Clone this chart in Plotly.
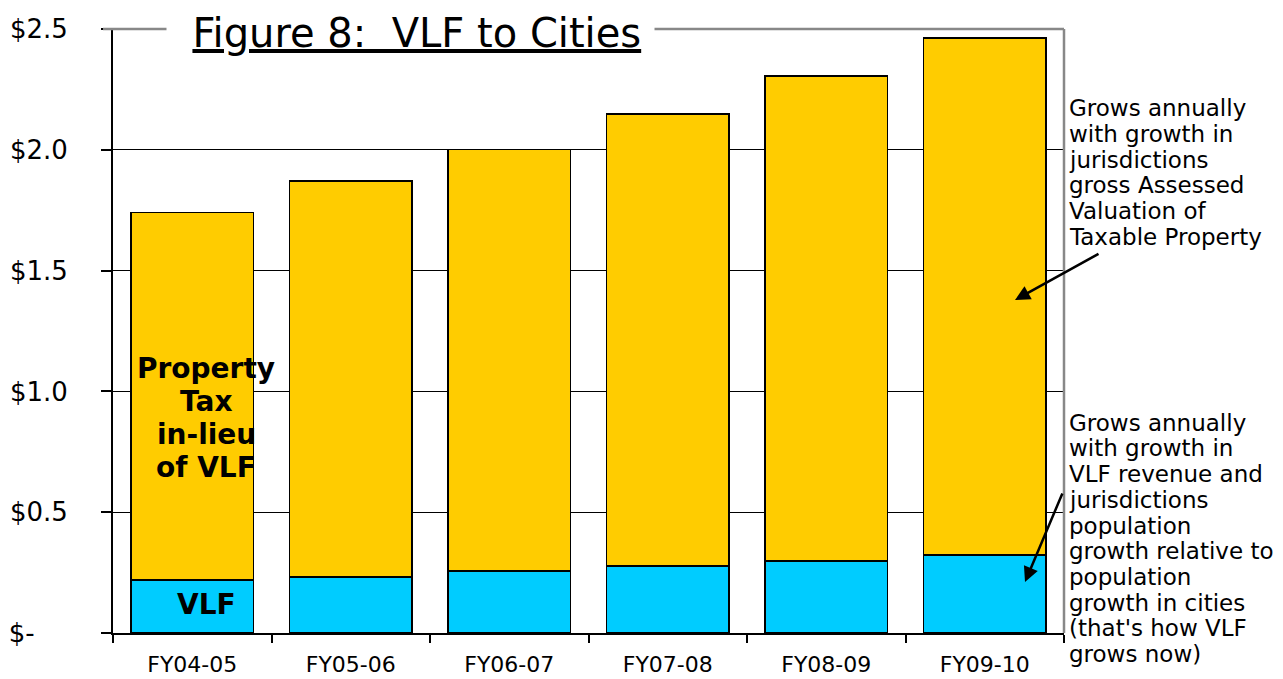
import plotly.graph_objects as go

categories = ["FY04-05", "FY05-06", "FY06-07", "FY07-08", "FY08-09", "FY09-10"]
vlf = [0.220, 0.232, 0.257, 0.278, 0.299, 0.323]
property_tax = [1.521, 1.638, 1.745, 1.870, 2.006, 2.140]
y_tickvals = [0, 0.5, 1.0, 1.5, 2.0, 2.5]
y_ticktext = ["$-\u00a0\u00a0\u00a0\u00a0", "$0.5", "$1.0", "$1.5", "$2.0", "$2.5"]

title_text = "\u00a0\u00a0<u>Figure 8:  VLF to Cities</u>\u00a0"
note1_lines = ["Grows annually", "with growth in", "jurisdictions", "gross Assessed",
               "Valuation of", "Taxable Property"]
note2_lines = ["Grows annually", "with growth in", "VLF revenue and", "jurisdictions",
               "population", "growth relative to", "population", "growth in cities",
               "(that's how VLF", "grows now)"]
inner_lines = ["Property", "Tax", "in-lieu", "of VLF"]

# page has an 8px body margin; figure is sized to fit the 1283x679 window
OFF = 8
W, H = 1283 - OFF, 679 - OFF
L, R, T, B = 113, 1064, 29, 633  # plot area in page pixels
FONT = "DejaVu Sans"

def px_x(p):
    return (p - L) / (R - L)

def px_y(p):
    return (B - p) / (B - T)

fig = go.Figure()
fig.add_trace(go.Bar(x=categories, y=vlf, name="VLF",
                     marker=dict(color="#00CCFF", line=dict(color="black", width=1.5))))
fig.add_trace(go.Bar(x=categories, y=property_tax, name="Property Tax in-lieu of VLF",
                     marker=dict(color="#FFCC00", line=dict(color="black", width=1.5))))

annotations = []
annotations.append(dict(text=title_text, xref="paper", yref="paper", x=px_x(410), y=px_y(OFF + 1),
                        xanchor="center", yanchor="top", showarrow=False,
                        font=dict(family=FONT, size=40, color="black"),
                        bgcolor="white", borderpad=0))
y1 = [108, 134, 160, 185, 211, 237]
for t, py in zip(note1_lines, y1):
    annotations.append(dict(text=t, xref="paper", yref="paper", x=px_x(1067), y=px_y(py),
                            xanchor="left", yanchor="middle", showarrow=False,
                            font=dict(family=FONT, size=23, color="black")))
y2 = [423, 448, 474, 500, 526, 551, 577, 603, 628, 654]
for t, py in zip(note2_lines, y2):
    annotations.append(dict(text=t, xref="paper", yref="paper", x=px_x(1067), y=px_y(py),
                            xanchor="left", yanchor="middle", showarrow=False,
                            font=dict(family=FONT, size=23, color="black")))
yi = [368, 401, 434, 467]
for t, py in zip(inner_lines, yi):
    annotations.append(dict(text="<b>" + t + "</b>", xref="paper", yref="paper", x=px_x(206),
                            y=px_y(py), xanchor="center", yanchor="middle", showarrow=False,
                            font=dict(family=FONT, size=28, color="black")))
annotations.append(dict(text="<b>VLF</b>", xref="paper", yref="paper", x=px_x(206), y=px_y(604),
                        xanchor="center", yanchor="middle", showarrow=False,
                        font=dict(family=FONT, size=28, color="black")))
# arrows (tail offsets in pixels from the head)
annotations.append(dict(text="", xref="paper", yref="paper", x=px_x(1015), y=px_y(300),
                        axref="pixel", ayref="pixel", ax=85, ay=-47,
                        showarrow=True, arrowhead=2, arrowsize=1.2, arrowwidth=2.5,
                        arrowcolor="black"))
annotations.append(dict(text="", xref="paper", yref="paper", x=px_x(1025), y=px_y(582),
                        axref="pixel", ayref="pixel", ax=38, ay=-90,
                        showarrow=True, arrowhead=2, arrowsize=1.2, arrowwidth=2.5,
                        arrowcolor="black"))

shapes = [
    dict(type="line", xref="paper", yref="paper", x0=px_x(103), x1=1, y0=1, y1=1,
         line=dict(color="#888888", width=2.5), layer="above"),
    dict(type="line", xref="paper", yref="paper", x0=1, x1=1, y0=0, y1=1,
         line=dict(color="#888888", width=2.5), layer="above"),
]

fig.update_layout(
    width=W, height=H,
    margin=dict(l=L - OFF, r=W - (R - OFF), t=T - OFF, b=H - (B - OFF), pad=0,
                autoexpand=False),
    barmode="stack", bargap=0.23,
    showlegend=False,
    plot_bgcolor="white", paper_bgcolor="white",
    annotations=annotations, shapes=shapes,
    font=dict(family=FONT, color="black"),
    xaxis=dict(type="category", showgrid=False, showline=True, linecolor="black", linewidth=2,
               ticks="outside", tickson="boundaries", ticklen=8, tickcolor="black", tickwidth=2,
               tickfont=dict(family=FONT, size=22, color="black"), ticklabelstandoff=11,
               automargin=False),
    yaxis=dict(range=[0, 2.5], tickvals=y_tickvals, ticktext=y_ticktext,
               showgrid=True, gridcolor="black", gridwidth=1,
               showline=True, linecolor="black", linewidth=2,
               ticks="outside", ticklen=10, tickcolor="black", tickwidth=1.5,
               tickfont=dict(family=FONT, size=26, color="black"), ticklabelstandoff=28,
               zeroline=False, automargin=False),
)

fig.write_html("out.html")
